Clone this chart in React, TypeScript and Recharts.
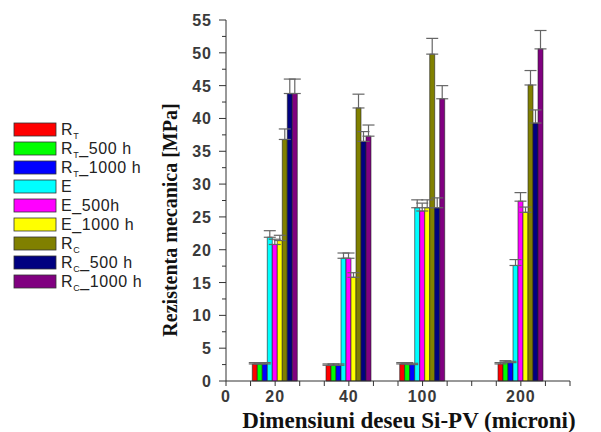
import { BarChart, Bar, XAxis, YAxis, ErrorBar } from 'recharts'

// pozitii pe axa x (index uniform) si etichetele lor
const POSITIONS = [2, 5, 8, 12]
const SIZE_LABELS = ['20', '40', '100', '200']
const X_TICKS = [0, 1, 2, 3, 4, 5, 6, 7, 8, 9, 10, 11, 12, 13, 14]
const Y_TICKS = [0, 2.5, 5, 7.5, 10, 12.5, 15, 17.5, 20, 22.5, 25, 27.5, 30, 32.5, 35, 37.5, 40, 42.5, 45, 47.5, 50, 52.5, 55]

// valori medii [MPa]
const RT = [2.6, 2.4, 2.6, 2.6]
const RT_500 = [2.6, 2.4, 2.6, 2.9]
const RT_1000 = [2.6, 2.4, 2.5, 2.8]
const E = [21.9, 18.7, 26.4, 17.6]
const E_500 = [20.8, 18.7, 25.9, 27.4]
const E_1000 = [21.4, 15.8, 26.4, 25.7]
const RC = [36.8, 41.6, 49.8, 45.1]
const RC_500 = [43.8, 36.5, 26.4, 39.3]
const RC_1000 = [43.8, 37.3, 43.0, 50.6]

// abateri (doar in sus)
const RT_ERR = [0.2, 0.2, 0.2, 0.2]
const RT_500_ERR = [0.2, 0.2, 0.2, 0.2]
const RT_1000_ERR = [0.2, 0.2, 0.2, 0.2]
const E_ERR = [1.0, 0.8, 1.2, 0.9]
const E_500_ERR = [0.8, 0.8, 1.2, 1.3]
const E_1000_ERR = [0.8, 0.7, 1.2, 0.8]
const RC_ERR = [1.6, 2.1, 2.4, 2.2]
const RC_500_ERR = [2.2, 1.5, 1.5, 2.0]
const RC_1000_ERR = [2.2, 1.7, 2.0, 2.8]

const SERIES = [
  { key: 'rt', main: 'R', sub: 'T', rest: '', color: '#ff0000', values: RT, err: RT_ERR },
  { key: 'rt500', main: 'R', sub: 'T', rest: '_500 h', color: '#00ff00', values: RT_500, err: RT_500_ERR },
  { key: 'rt1000', main: 'R', sub: 'T', rest: '_1000 h', color: '#0000ff', values: RT_1000, err: RT_1000_ERR },
  { key: 'e', main: 'E', sub: '', rest: '', color: '#00ffff', values: E, err: E_ERR },
  { key: 'e500', main: 'E', sub: '', rest: '_500h', color: '#ff00ff', values: E_500, err: E_500_ERR },
  { key: 'e1000', main: 'E', sub: '', rest: '_1000 h', color: '#ffff00', values: E_1000, err: E_1000_ERR },
  { key: 'rc', main: 'R', sub: 'C', rest: '', color: '#808000', values: RC, err: RC_ERR },
  { key: 'rc500', main: 'R', sub: 'C', rest: '_500 h', color: '#000080', values: RC_500, err: RC_500_ERR },
  { key: 'rc1000', main: 'R', sub: 'C', rest: '_1000 h', color: '#800080', values: RC_1000, err: RC_1000_ERR },
]

const rows = POSITIONS.map((pos, i) => {
  const row: Record<string, any> = { pos }
  SERIES.forEach((s) => {
    row[s.key] = s.values[i]
    row[s.key + 'Err'] = [0, s.err[i]]
  })
  return row
})

const tickFont = { fontFamily: 'Liberation Sans, Arial, sans-serif', fontWeight: 700, fontSize: 16, fill: '#3a3a3a' }

function YTick(props: any) {
  const { x, y, payload } = props
  const v = payload.value
  const major = v % 5 === 0
  return (
    <g>
      <line x1={x - (major ? 7 : 4)} x2={x} y1={y} y2={y} stroke="#333" strokeWidth={1} />
      {major && (
        <text x={x - 14} y={y} dy={6} textAnchor="end" letterSpacing={1} {...tickFont}>
          {v}
        </text>
      )}
    </g>
  )
}

function XTick(props: any) {
  const { x, y, payload } = props
  const v = payload.value
  const idx = POSITIONS.indexOf(v)
  const label = v === 0 ? '0' : idx >= 0 ? SIZE_LABELS[idx] : ''
  return (
    <g>
      <line x1={x} x2={x} y1={y} y2={y + 5} stroke="#333" strokeWidth={1} />
      {label && (
        <text x={x} y={y + 21} textAnchor="middle" letterSpacing={1} {...tickFont}>
          {label}
        </text>
      )}
    </g>
  )
}

function LegendBox() {
  return (
    <svg width={160} height={300} style={{ position: 'absolute', left: 0, top: 0 }}>
      {SERIES.map((s, i) => {
        const cy = 129 + i * 19
        return (
          <g key={s.key}>
            <rect x={14} y={cy - 6} width={42} height={13} fill={s.color} stroke="#333" strokeWidth={0.8} />
            <text
              x={61}
              y={cy + 6}
              fontFamily="Liberation Sans, Arial, sans-serif"
              fontSize={16}
              letterSpacing={0.6}
              fill="#222"
            >
              {s.main}
              {s.sub && (
                <tspan fontSize={9} dy={4}>
                  {s.sub}
                </tspan>
              )}
              {s.rest && <tspan dy={s.sub ? -4 : 0}>{s.rest}</tspan>}
            </text>
          </g>
        )
      })}
    </svg>
  )
}

export default function App() {
  return (
    <div style={{ position: 'absolute', left: 0, top: 0, width: 601, height: 432, background: '#fff' }}>
      <BarChart
        width={601}
        height={432}
        data={rows}
        margin={{ top: 20, right: 31, bottom: 0, left: 0 }}
        barGap={0}
        barSize={5}
      >
        <XAxis
          dataKey="pos"
          type="number"
          domain={[0, 14]}
          ticks={X_TICKS}
          interval={0}
          height={51}
          tickSize={0}
          tickMargin={0}
          tickLine={false}
          tick={XTick}
          stroke="#333"
        />
        <YAxis
          type="number"
          domain={[0, 55]}
          ticks={Y_TICKS}
          interval={0}
          width={226}
          tickSize={0}
          tickMargin={0}
          tickLine={false}
          tick={YTick}
          stroke="#333"
        />
        {SERIES.map((s) => (
          <Bar key={s.key} dataKey={s.key} fill={s.color} stroke="#222" strokeWidth={0.6} isAnimationActive={false}>
            <ErrorBar dataKey={s.key + 'Err'} width={6} stroke="#666" strokeWidth={1.2} direction="y" />
          </Bar>
        ))}
      </BarChart>
      <LegendBox />
      <svg width={601} height={432} style={{ position: 'absolute', left: 0, top: 0, pointerEvents: 'none' }}>
        <text
          x={409}
          y={428}
          textAnchor="middle"
          fontFamily="Liberation Serif, Times New Roman, serif"
          fontWeight={700}
          fontSize={23}
          fill="#111"
        >
          Dimensiuni deseu Si-PV (microni)
        </text>
        <text
          x={0}
          y={0}
          transform="translate(177 220) rotate(-90)"
          textAnchor="middle"
          fontFamily="Liberation Serif, Times New Roman, serif"
          fontWeight={700}
          fontSize={20}
          fill="#111"
        >
          Rezistenta mecanica [MPa]
        </text>
      </svg>
    </div>
  )
}
